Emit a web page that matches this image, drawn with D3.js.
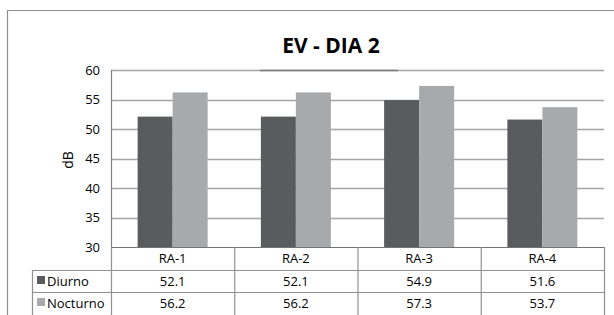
<!DOCTYPE html>
<html><head><meta charset="utf-8">
<script src="https://cdn.jsdelivr.net/npm/d3@7"></script>
<style>body{margin:0;background:#fff}svg{display:block;font-family:"Open Sans",Lato,sans-serif}</style>
</head><body>
<script>
const categories = ["RA-1", "RA-2", "RA-3", "RA-4"];
const seriesNames = ["Diurno", "Nocturno"];
const diurno = [52.1, 52.1, 54.9, 51.6];
const nocturno = [56.2, 56.2, 57.3, 53.7];
const yTicks = [30, 35, 40, 45, 50, 55, 60];
const colors = ["#5a5b5d", "#a8a9ab"];

(function(){
const W = 614, H = 315;
const svg = d3.select("body").append("svg").attr("width", W).attr("height", H);
const pL = 111, pR = 604, pT = 70, pB = 247;

// frame
svg.append("path").attr("d", `M7.5,${H}V10.5H${W}`).attr("fill","none").attr("stroke","#8c8c8c").attr("stroke-width",1.2);

svg.append("text").attr("x", 331).attr("y", 53).attr("text-anchor","middle")
  .attr("font-size", 21).attr("font-weight","bold").attr("fill","#000").text("EV - DIA 2");

const x = d3.scaleBand().domain(categories).range([pL, pR]);
const y = d3.scaleLinear().domain([30, 60]).range([pB, pT]);

// gridlines
svg.append("g").selectAll("line").data(yTicks.slice(1)).join("line")
  .attr("x1", pL).attr("x2", pR).attr("y1", d=>Math.round(y(d))+0.5).attr("y2", d=>Math.round(y(d))+0.5)
  .attr("stroke","#a4a4a4").attr("stroke-width",1.3);
// darker segment on top line (as in reference)
svg.append("line").attr("x1", 260).attr("x2", 398).attr("y1", Math.round(y(60))+0.5).attr("y2", Math.round(y(60))+0.5)
  .attr("stroke","#7a7a7a").attr("stroke-width",1.5);

// bars
const bw = 35;
const data = categories.map((c,i)=>({c, vals:[diurno[i], nocturno[i]]}));
const g = svg.append("g");
data.forEach(d=>{
  const cx = x(d.c) + x.bandwidth()/2;
  d.vals.forEach((v,j)=>{
    g.append("rect").attr("x", cx - bw + j*bw).attr("width", bw)
      .attr("y", y(v)).attr("height", y(30)-y(v)).attr("fill", colors[j]);
  });
});

// y axis
const ya = svg.append("g").attr("transform", `translate(${pL},0)`)
  .call(d3.axisLeft(y).tickValues(yTicks).tickSize(0).tickPadding(11));
ya.select(".domain").remove();
ya.selectAll("text").attr("font-size", 13).attr("font-family","'Open Sans',sans-serif").attr("fill","#000");
svg.append("line").attr("x1", pL+0.5).attr("x2", pL+0.5).attr("y1", pT).attr("y2", pB).attr("stroke","#808080").attr("stroke-width",1.2);

svg.append("text").attr("transform", "translate(73,160) rotate(-90)").attr("text-anchor","middle")
  .attr("font-size", 14).attr("fill","#000").text("dB");

// data table
const rowY = [pB, 270, 292];
const tcol = "#919191";
const tb = svg.append("g").attr("stroke", tcol).attr("stroke-width",1.2).attr("fill","none");
tb.append("line").attr("x1", pL).attr("x2", pR).attr("y1", pB+0.5).attr("y2", pB+0.5).attr("stroke","#737373");
[rowY[1], rowY[2]].forEach(yy=>tb.append("line").attr("x1", 32).attr("x2", pR).attr("y1", yy+0.5).attr("y2", yy+0.5));
categories.forEach(c=>{
  tb.append("line").attr("x1", x(c)+0.5).attr("x2", x(c)+0.5).attr("y1", pB).attr("y2", H);
});
tb.append("line").attr("x1", pR+0.5).attr("x2", pR+0.5).attr("y1", pB).attr("y2", H);
tb.append("line").attr("x1", 32.5).attr("x2", 32.5).attr("y1", rowY[1]).attr("y2", H);

categories.forEach((c,i)=>{
  const cx = x(c) + x.bandwidth()/2;
  svg.append("text").attr("x", cx).attr("y", 263).attr("text-anchor","middle").attr("font-size",13).text(c);
  svg.append("text").attr("x", cx).attr("y", 286).attr("text-anchor","middle").attr("font-size",13).text(diurno[i].toFixed(1));
  svg.append("text").attr("x", cx).attr("y", 308).attr("text-anchor","middle").attr("font-size",13).text(nocturno[i].toFixed(1));
});
seriesNames.forEach((s,j)=>{
  const yy = [281, 303][j];
  svg.append("rect").attr("x", 37).attr("y", yy-5).attr("width", 8).attr("height", 8).attr("fill", colors[j]);
  svg.append("text").attr("x", 47).attr("y", yy+5).attr("font-size",13).text(s);
});
})();
</script>
</body></html>
